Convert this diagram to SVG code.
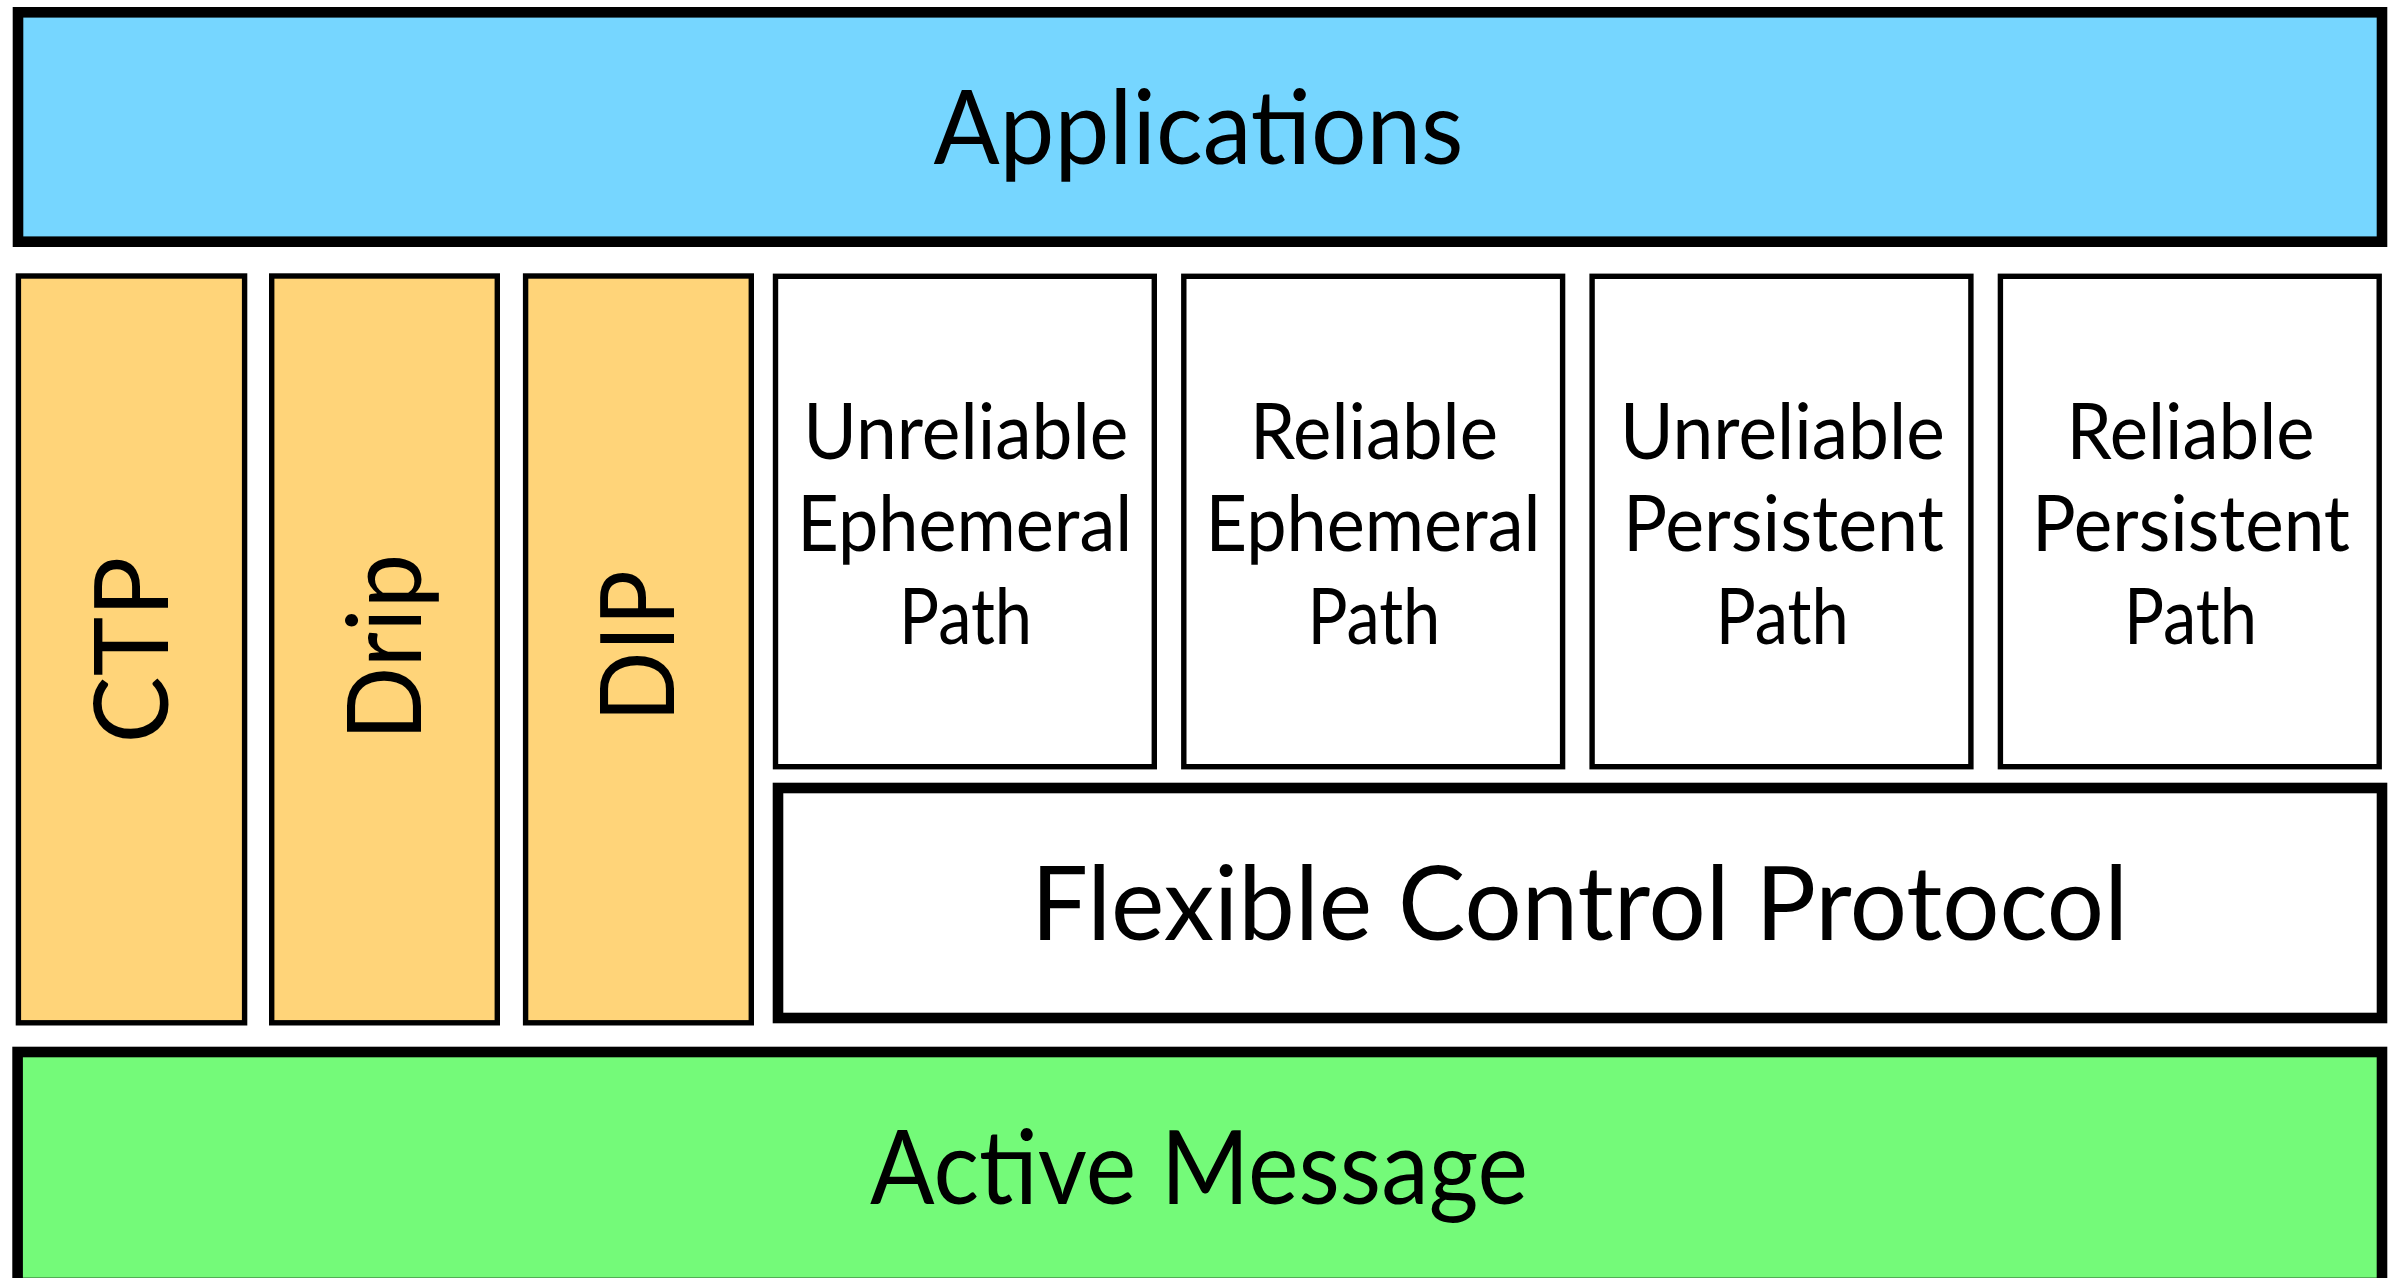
<svg xmlns="http://www.w3.org/2000/svg" width="2394" height="1278" viewBox="0 0 2394 1278">
  <style>
    .thick { stroke: #000; stroke-width: 10.6; }
    .thin { stroke: #000; stroke-width: 5.4; }
    .app { fill: #76D6FF; }
    .proto { fill: #FFD479; }
    .path { fill: #FFFFFF; }
    .am { fill: #74FA79; }
    text { font-family: Lato, "Open Sans", "Liberation Sans", sans-serif; fill: #000; text-anchor: middle; }
    .big { font-size: 102px; }
    .mid { font-size: 78px; }
  </style>
  <rect x="0" y="0" width="2394" height="1278" fill="#FFFFFF"/>

  <!-- top layer -->
  <g id="applications">
    <rect class="thick app" x="18" y="12.3" width="2364" height="229.4"/>
    <text class="big" x="1198.5" y="164" textLength="530" lengthAdjust="spacingAndGlyphs">Applications</text>
  </g>

  <!-- standalone protocols, labels read bottom-to-top -->
  <g id="ctp">
    <rect class="thin proto" x="18.4" y="276" width="226.2" height="746.8"/>
    <text class="big" transform="translate(168 650) rotate(-90)" x="0" y="0" textLength="187" lengthAdjust="spacingAndGlyphs">CTP</text>
  </g>
  <g id="drip">
    <rect class="thin proto" x="271.7" y="276" width="225.6" height="746.8"/>
    <text class="big" transform="translate(421 647.3) rotate(-90)" x="0" y="0" textLength="187" lengthAdjust="spacingAndGlyphs">Drip</text>
  </g>
  <g id="dip">
    <rect class="thin proto" x="525.6" y="276" width="225.7" height="746.8"/>
    <text class="big" transform="translate(674.3 646) rotate(-90)" x="0" y="0" textLength="152" lengthAdjust="spacingAndGlyphs">DIP</text>
  </g>

  <!-- path types over FCP -->
  <g id="unreliable-ephemeral">
    <rect class="thin path" x="775.5" y="276.3" width="378.8" height="490.4"/>
    <text class="mid" x="965.8" y="459" textLength="325" lengthAdjust="spacingAndGlyphs">Unreliable</text>
    <text class="mid" x="964.8" y="551.3" textLength="335" lengthAdjust="spacingAndGlyphs">Ephemeral</text>
    <text class="mid" x="965.6" y="644.3" textLength="133" lengthAdjust="spacingAndGlyphs">Path</text>
  </g>
  <g id="reliable-ephemeral">
    <rect class="thin path" x="1183.8" y="276.3" width="378.8" height="490.4"/>
    <text class="mid" x="1374" y="459" textLength="248" lengthAdjust="spacingAndGlyphs">Reliable</text>
    <text class="mid" x="1373.1" y="551.3" textLength="335" lengthAdjust="spacingAndGlyphs">Ephemeral</text>
    <text class="mid" x="1373.9" y="644.3" textLength="133" lengthAdjust="spacingAndGlyphs">Path</text>
  </g>
  <g id="unreliable-persistent">
    <rect class="thin path" x="1592.1" y="276.3" width="378.8" height="490.4"/>
    <text class="mid" x="1782.4" y="459" textLength="325" lengthAdjust="spacingAndGlyphs">Unreliable</text>
    <text class="mid" x="1783.5" y="551.3" textLength="321" lengthAdjust="spacingAndGlyphs">Persistent</text>
    <text class="mid" x="1782.2" y="644.3" textLength="133" lengthAdjust="spacingAndGlyphs">Path</text>
  </g>
  <g id="reliable-persistent">
    <rect class="thin path" x="2000.4" y="276.3" width="378.8" height="490.4"/>
    <text class="mid" x="2190.6" y="459" textLength="248" lengthAdjust="spacingAndGlyphs">Reliable</text>
    <text class="mid" x="2191" y="551.3" textLength="318" lengthAdjust="spacingAndGlyphs">Persistent</text>
    <text class="mid" x="2190.5" y="644.3" textLength="133" lengthAdjust="spacingAndGlyphs">Path</text>
  </g>

  <g id="flexible-control-protocol">
    <rect class="thick path" x="778" y="788" width="1604" height="230"/>
    <text class="big" x="1579.5" y="940" textLength="1097" lengthAdjust="spacingAndGlyphs">Flexible Control Protocol</text>
  </g>

  <!-- bottom layer, runs past the lower edge -->
  <g id="active-message">
    <rect class="thick am" x="17.6" y="1052" width="2364.4" height="231"/>
    <text class="big" x="1199" y="1204" textLength="658" lengthAdjust="spacingAndGlyphs">Active Message</text>
  </g>

  <g id="connectors"/>
</svg>
